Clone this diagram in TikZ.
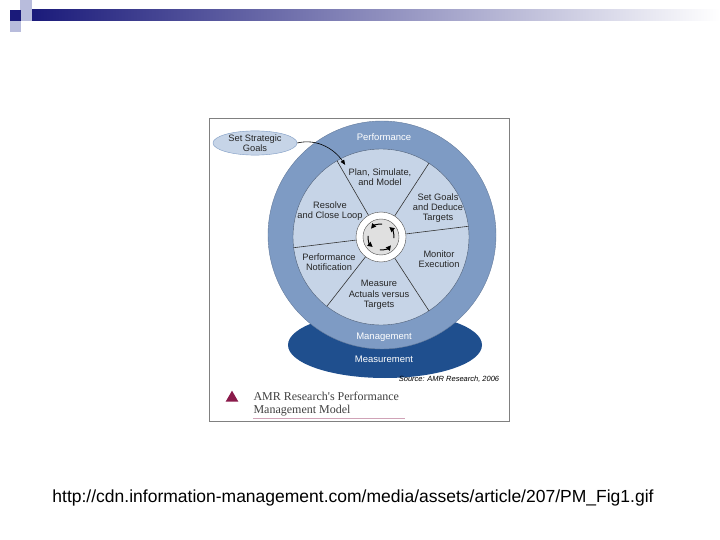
\documentclass[tikz,border=0pt]{standalone}
\usepackage{fontspec}
\setmainfont{Liberation Sans}
\newfontfamily\serifc{Liberation Serif}
\usetikzlibrary{arrows.meta,shapes.geometric}
\definecolor{ring}{HTML}{7E9BC4}
\definecolor{inner}{HTML}{C6D4E7}
\definecolor{deep}{HTML}{1F4F8E}
\definecolor{navy}{HTML}{1A1A7A}
\definecolor{lsq}{HTML}{B8BCDC}
\definecolor{maroon}{HTML}{8A1A4A}
\tikzset{lbl/.style={font=\fontsize{9.3}{10.3}\selectfont, align=center, text=black!85},
 wlbl/.style={font=\fontsize{9.5}{10}\selectfont, text=white},
 divl/.style={draw=black!80, line width=0.6pt}}
\begin{document}
\begin{tikzpicture}[x=1pt,y=-1pt]
\useasboundingbox (0,0) rectangle (720,540);
\fill[white] (0,0) rectangle (720,540);
% header
\shade[left color=navy, right color=white] (30,10) rectangle (720,21);
\fill[lsq] (20,0) rectangle (32,10);
\fill[lsq] (21,10) rectangle (32,21);
\fill[lsq] (10,21) rectangle (21,32);
\fill[navy] (10,10) rectangle (21,21);
% frame
\node[draw=black!50, line width=0.6pt, minimum width=300, minimum height=303, inner sep=0] (frame) at (359,269.5) {};
% base ellipse
\fill[deep] (385,345) ellipse [x radius=97, y radius=33];
% outer ring
\node[circle, fill=ring, draw=ring!80!black, minimum size=228, inner sep=0] (outer) at (382,235) {};
\node[circle, fill=inner, draw=ring!60!black, minimum size=176, inner sep=0] (inn) at (381,237) {};
% dividers
\foreach \a in {120,57,7,187,232,303}
  \draw[divl] (381,237) ++(-\a:25) -- ++(-\a:63);
% hub
\node[circle, fill=white, draw=black!70, minimum size=50, inner sep=0] (hub) at (381,237) {};
\node[circle, fill=black!12, draw=black!70, minimum size=36, inner sep=0] (hubin) at (381,237) {};
\foreach \s in {95,5,-85,-175}
  \draw[line width=1pt, -{Triangle[length=5pt,width=5pt]}] (381,237) ++(\s:13) arc[start angle=\s, end angle=\s-55, radius=13];
% labels
\node[lbl] (t1) at (380,177) {Plan, Simulate,\\and Model};
\node[lbl] (t2) at (438,208) {Set Goals\\and Deduce\\Targets};
\node[lbl] (t3) at (439,259) {Monitor\\Execution};
\node[lbl] (t4) at (379,295) {Measure\\Actuals versus\\Targets};
\node[lbl] (t5) at (329,262) {Performance\\Notification};
\node[lbl] (t6) at (330,211) {Resolve\\and Close Loop};
\node[wlbl] (p) at (384,137) {Performance};
\node[wlbl] (m) at (384,337) {Management};
\node[wlbl] (ms) at (384,359) {Measurement};
% strategic goals
\node[ellipse, fill=inner, draw=ring, minimum width=84, minimum height=24, inner sep=0, lbl] (sg) at (255,143) {Set Strategic\\Goals};
\draw[line width=0.6pt, -{Triangle[length=5pt,width=4pt]}] (sg.east) .. controls (318,138) and (335,150) .. (t1.north west);
% source & caption
\node[font=\itshape\fontsize{7.5}{8}\selectfont] (src) at (449,379) {Source: AMR Research, 2006};
\node[isosceles triangle, shape border rotate=90, fill=maroon, minimum width=12, minimum height=11, inner sep=0, isosceles triangle apex angle=60] (tri) at (232,398) {};
\node[font=\serifc\fontsize{12}{12.5}\selectfont, align=left, anchor=west, text=black!75] (cap) at (250,404) {AMR Research's Performance\\Management Model};
\draw[maroon!40, line width=0.8pt] (253,418) -- (405,418);
% url
\node[font=\fontsize{17.5}{20}\selectfont] (url) at (353,498) {http://cdn.information-management.com/media/assets/article/207/PM\_Fig1.gif};
\end{tikzpicture}
\end{document}
